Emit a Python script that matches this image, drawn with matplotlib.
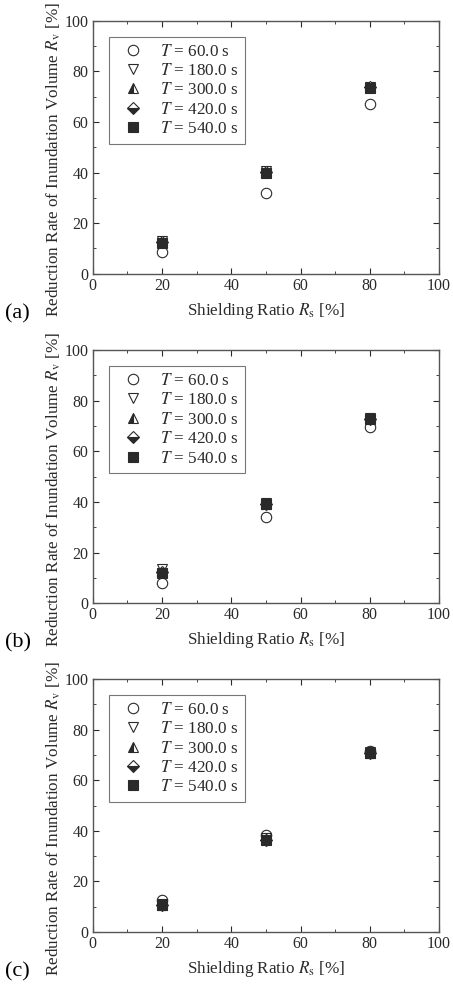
import numpy as np
import matplotlib
matplotlib.use('Agg')
import matplotlib.pyplot as plt
from matplotlib.ticker import MultipleLocator

plt.rcParams['font.family'] = ['Liberation Serif', 'DejaVu Serif']
plt.rcParams['mathtext.fontset'] = 'stix'

# shielding ratio Rs [%]
shield = [20, 50, 80]
times = [60.0, 180.0, 300.0, 420.0, 540.0]

# reduction rate Rv [%] for each case, one list per time step
a_t60 = [8.6, 31.8, 67.0]
a_t180 = [12.8, 40.5, 74.0]
a_t300 = [12.6, 40.3, 73.8]
a_t420 = [12.5, 40.2, 73.7]
a_t540 = [12.3, 40.0, 73.5]

b_t60 = [8.0, 34.2, 69.8]
b_t180 = [13.5, 39.5, 73.2]
b_t300 = [12.5, 39.3, 73.0]
b_t420 = [12.2, 39.2, 72.9]
b_t540 = [12.0, 39.0, 72.7]

c_t60 = [12.8, 38.4, 71.4]
c_t180 = [11.2, 37.0, 71.0]
c_t300 = [10.8, 36.6, 70.9]
c_t420 = [10.6, 36.5, 70.8]
c_t540 = [10.5, 36.4, 70.8]

panels = [
    ('(a)', [a_t60, a_t180, a_t300, a_t420, a_t540]),
    ('(b)', [b_t60, b_t180, b_t300, b_t420, b_t540]),
    ('(c)', [c_t60, c_t180, c_t300, c_t420, c_t540]),
]

# marker, fillstyle per series
styles = [
    dict(marker='o', fillstyle='none', markersize=7.5),
    dict(marker='v', fillstyle='none', markersize=7.5),
    dict(marker='^', fillstyle='left', markersize=7.5),
    dict(marker='D', fillstyle='bottom', markersize=6.5),
    dict(marker='s', fillstyle='full', markersize=6.5),
]

ink = '#2a2a2a'

fig = plt.figure(figsize=(4.53, 9.92), dpi=100)
bottoms = [0.724, 0.392, 0.0605]

for (tag, series), bot in zip(panels, bottoms):
    ax = fig.add_axes([0.205, bot, 0.764, 0.255])
    for t, vals, st in zip(times, series, styles):
        ax.plot(shield, vals, linestyle='none', color=ink,
                markerfacecolor=ink, markerfacecoloralt='white',
                markeredgecolor=ink, markeredgewidth=0.8,
                label='$T$ = %.1f s' % t, **st)
    ax.set_xlim(0, 100)
    ax.set_ylim(0, 100)
    ax.xaxis.set_major_locator(MultipleLocator(20))
    ax.xaxis.set_minor_locator(MultipleLocator(10))
    ax.yaxis.set_major_locator(MultipleLocator(20))
    ax.yaxis.set_minor_locator(MultipleLocator(10))
    ax.tick_params(which='both', direction='in', top=True, right=True,
                   colors=ink, labelsize=11.5, pad=3)
    ax.tick_params(which='major', length=4)
    ax.tick_params(which='minor', length=2)
    for sp in ax.spines.values():
        sp.set_color('#555555')
        sp.set_linewidth(1.0)
    ax.set_xlabel('Shielding Ratio $R_\\mathrm{s}$ [%]', fontsize=12.3, color=ink,
                  labelpad=5)
    ax.set_ylabel('Reduction Rate of Inundation Volume $R_\\mathrm{v}$ [%]',
                  fontsize=12.3, color=ink)
    ax.yaxis.set_label_coords(-0.087, 0.45)
    leg = ax.legend(loc='upper left', bbox_to_anchor=(0.046, 0.937),
                    borderaxespad=0, fancybox=False, edgecolor='#777777',
                    fontsize=12.3, labelspacing=0.2, handletextpad=0.6,
                    borderpad=0.4, handlelength=2.0, framealpha=1)
    leg.get_frame().set_linewidth(0.8)
    for txt in leg.get_texts():
        txt.set_color(ink)
    fig.text(0.012, bot - 0.04, tag, fontsize=16, color='black',
             ha='left', va='center')

fig.savefig('out.png', dpi=100)
